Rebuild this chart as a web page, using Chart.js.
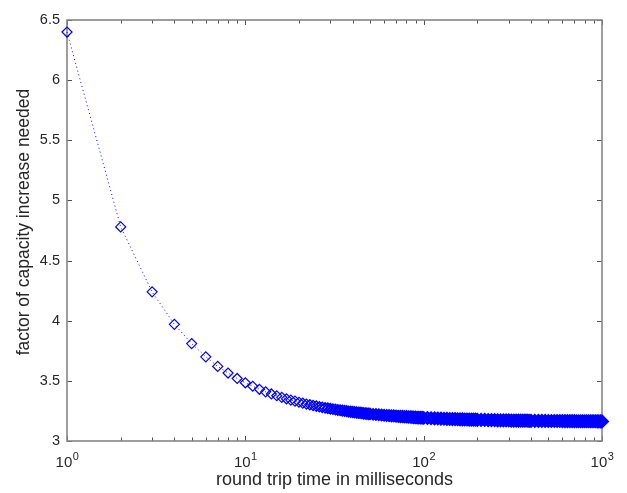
<!DOCTYPE html>
<html>
<head>
<meta charset="utf-8">
<script src="https://cdn.jsdelivr.net/npm/chart.js@4.4.0/dist/chart.umd.min.js"></script>
<style>
  html, body { margin: 0; padding: 0; background: #fff; }
  #wrap { width: 627px; height: 493px; }
</style>
</head>
<body>
<div id="wrap"><canvas id="myChart"></canvas></div>
<script>
// round trip time (ms)
var rttMs = [
    1, 2, 3, 4, 5, 6, 7, 8, 9, 10,
    11, 12, 13, 14, 15, 16, 17, 18, 19, 20,
    21, 22, 23, 24, 25, 26, 27, 28, 29, 30,
    31, 32, 33, 34, 35, 36, 37, 38, 39, 40,
    41, 42, 43, 44, 45, 46, 47, 48, 49, 50,
    52, 54, 56, 58, 60, 62, 64, 66, 68, 70, 72, 74, 76, 78, 80, 82, 84, 86, 88, 90, 92, 94, 96, 98, 100,
    105, 110, 115, 120, 125, 130, 135, 140, 145, 150, 155, 160, 165, 170, 175, 180, 185, 190, 195, 200,
    210, 220, 230, 240, 250, 260, 270, 280, 290, 300, 310, 320, 330, 340, 350, 360, 370, 380, 390, 400,
    420, 440, 460, 480, 500, 520, 540, 560, 580, 600, 620, 640, 660, 680, 700, 720, 740, 760, 780, 800,
    820, 840, 860, 880, 900, 920, 940, 960, 980, 1000
];

// factor of capacity increase needed
var factor = [
    6.40, 4.78, 4.24, 3.97, 3.81, 3.70, 3.62, 3.565, 3.52, 3.484,
    3.455, 3.43, 3.409, 3.391, 3.376, 3.363, 3.351, 3.34, 3.331, 3.322,
    3.314, 3.307, 3.301, 3.295, 3.29, 3.285, 3.28, 3.276, 3.272, 3.268,
    3.265, 3.261, 3.258, 3.255, 3.253, 3.25, 3.248, 3.245, 3.243, 3.241,
    3.239, 3.237, 3.235, 3.234, 3.232, 3.23, 3.229, 3.228, 3.226, 3.225,
    3.222, 3.22, 3.218, 3.216, 3.214, 3.212, 3.211, 3.209, 3.208, 3.206, 3.205, 3.204, 3.203, 3.202, 3.201, 3.2, 3.199, 3.198, 3.197, 3.196, 3.195, 3.194, 3.194, 3.193, 3.192,
    3.191, 3.189, 3.188, 3.187, 3.186, 3.185, 3.184, 3.183, 3.182, 3.182, 3.181, 3.18, 3.18, 3.179, 3.179, 3.178, 3.178, 3.177, 3.177, 3.176,
    3.175, 3.175, 3.174, 3.174, 3.173, 3.172, 3.172, 3.172, 3.171, 3.171, 3.17, 3.17, 3.17, 3.17, 3.169, 3.169, 3.169, 3.169, 3.168, 3.168,
    3.168, 3.167, 3.167, 3.167, 3.166, 3.166, 3.166, 3.166, 3.166, 3.165, 3.165, 3.165, 3.165, 3.165, 3.165, 3.164, 3.164, 3.164, 3.164, 3.164,
    3.164, 3.164, 3.164, 3.164, 3.164, 3.164, 3.163, 3.163, 3.163, 3.163
];

var xTicks = [1, 2, 3, 4, 5, 6, 7, 8, 9, 10, 20, 30, 40, 50, 60, 70, 80, 90, 100,
    200, 300, 400, 500, 600, 700, 800, 900, 1000];
var xMajor = [1, 10, 100, 1000];
var xMajorBase = '10';
var xMajorExp = ['0', '1', '2', '3'];
var yTicks = [3, 3.5, 4, 4.5, 5, 5.5, 6, 6.5];

var xTitle = 'round trip time in milliseconds';
var yTitle = 'factor of capacity increase needed';

var fontFamily = '"Liberation Sans", Arial, Helvetica, sans-serif';
var textColor = '#262626';
var blue = '#0000ff';

// MATLAB style box with inward ticks on all four sides
var axesBox = {
    id: 'axesBox',
    beforeDatasetsDraw: function (chart) {
        var ctx = chart.ctx;
        var a = chart.chartArea;
        var xs = chart.scales.x;
        var ys = chart.scales.y;

        ctx.save();
        ctx.strokeStyle = '#505050';
        ctx.lineWidth = 1;
        ctx.beginPath();
        xTicks.forEach(function (v) {
            var px = Math.round(xs.getPixelForValue(v)) + 0.5;
            var len = xMajor.indexOf(v) >= 0 ? 5 : 3.5;
            ctx.moveTo(px, a.bottom);
            ctx.lineTo(px, a.bottom - len);
            ctx.moveTo(px, a.top);
            ctx.lineTo(px, a.top + len);
        });
        yTicks.forEach(function (v) {
            var py = Math.round(ys.getPixelForValue(v)) + 0.5;
            ctx.moveTo(a.left, py);
            ctx.lineTo(a.left + 5, py);
            ctx.moveTo(a.right, py);
            ctx.lineTo(a.right - 5, py);
        });
        ctx.stroke();

        ctx.strokeStyle = '#868686';
        ctx.lineWidth = 1.6;
        ctx.strokeRect(a.left, a.top, a.right - a.left, a.bottom - a.top);
        ctx.restore();
    },
    afterDraw: function (chart) {
        var ctx = chart.ctx;
        var a = chart.chartArea;
        var xs = chart.scales.x;

        ctx.save();
        ctx.fillStyle = textColor;
        ctx.textAlign = 'left';
        ctx.textBaseline = 'alphabetic';
        // power-of-ten labels with raised exponent
        xMajor.forEach(function (v, i) {
            var px = xs.getPixelForValue(v);
            ctx.font = '15px ' + fontFamily;
            var wb = ctx.measureText(xMajorBase).width;
            ctx.font = '11px ' + fontFamily;
            var we = ctx.measureText(xMajorExp[i]).width;
            var x0 = px - (wb + we) / 2;
            ctx.font = '15px ' + fontFamily;
            ctx.fillText(xMajorBase, x0, a.bottom + 26);
            ctx.font = '11px ' + fontFamily;
            ctx.fillText(xMajorExp[i], x0 + wb + 0.5, a.bottom + 19);
        });

        // y axis title, sits a little above the centre like the original
        ctx.translate(24.5, (a.top + a.bottom) / 2 - 8.5);
        ctx.rotate(-Math.PI / 2);
        ctx.textAlign = 'center';
        ctx.textBaseline = 'middle';
        ctx.font = '17.5px ' + fontFamily;
        ctx.fillText(yTitle, 0, 0);
        ctx.restore();
    }
};

var points = rttMs.map(function (t, i) {
    return { x: t, y: factor[i] };
});

// 0 for sparse markers, rising to 1 where they crowd into a solid band
function crowding(c) {
    if (!c.raw) return 0;
    var k = Math.log(c.raw.x / 20) / Math.log(6);
    return Math.max(0, Math.min(1, k));
}

var ctx = document.getElementById('myChart').getContext('2d');
var myChart = new Chart(ctx, {
    type: 'scatter',
    data: {
        datasets: [{
            data: points,
            showLine: true,
            borderColor: blue,
            borderWidth: 1,
            borderDash: [1, 3],
            pointStyle: 'rectRot',
            pointRadius: function (c) { return 5 + 0.5 * crowding(c); },
            pointBorderWidth: function (c) { return 1.2 + 1.4 * crowding(c); },
            pointBorderColor: blue,
            pointBackgroundColor: 'rgba(0,0,0,0)',
            clip: false
        }]
    },
    options: {
        responsive: true,
        maintainAspectRatio: false,
        animation: false,
        devicePixelRatio: 1,
        layout: { padding: { top: 20, right: 25, left: 0, bottom: 0 } },
        plugins: {
            legend: { display: false },
            tooltip: { enabled: false }
        },
        scales: {
            x: {
                type: 'logarithmic',
                min: 1,
                max: 1000,
                grid: { display: false, drawTicks: false },
                border: { display: false },
                afterBuildTicks: function (scale) {
                    scale.ticks = xTicks.map(function (v) {
                        return { value: v, major: xMajor.indexOf(v) >= 0 };
                    });
                },
                afterFit: function (scale) { scale.height = 52; },
                ticks: {
                    display: false,
                    autoSkip: false,
                    maxRotation: 0
                },
                title: {
                    display: true,
                    text: xTitle,
                    color: textColor,
                    font: { family: fontFamily, size: 18 },
                    padding: { top: 0, bottom: 2.5 }
                }
            },
            y: {
                type: 'linear',
                min: 3,
                max: 6.5,
                grid: { display: false, drawTicks: false },
                border: { display: false },
                afterBuildTicks: function (scale) {
                    scale.ticks = yTicks.map(function (v) {
                        return { value: v };
                    });
                },
                afterFit: function (scale) { scale.width = 67; },
                ticks: {
                    padding: 7,
                    color: textColor,
                    font: { family: fontFamily, size: 14.5 },
                    callback: function (value) { return String(value); }
                },
                title: { display: false }
            }
        }
    },
    plugins: [axesBox]
});
</script>
</body>
</html>
